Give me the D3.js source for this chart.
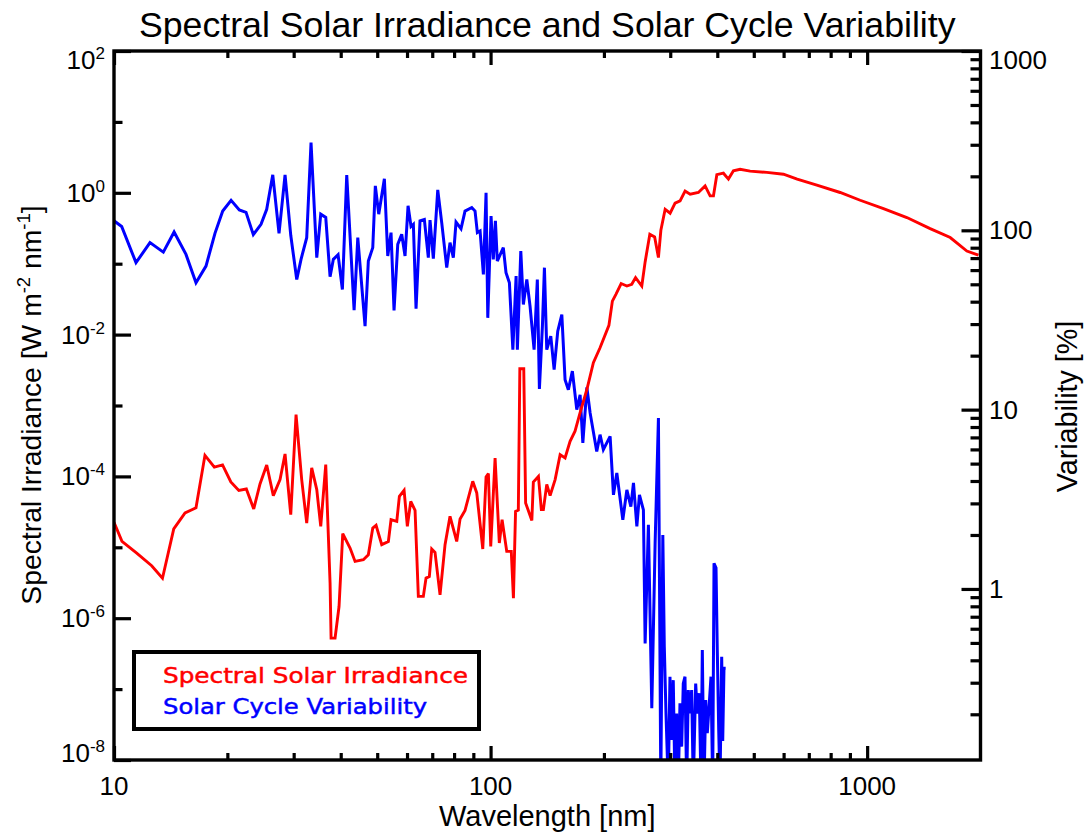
<!DOCTYPE html>
<html>
<head>
<meta charset="utf-8">
<script src="https://cdn.jsdelivr.net/npm/d3@7"></script>
<style>
  body { margin: 0; background: #fff; }
  svg text { font-family: "Liberation Sans", Arial, Helvetica, sans-serif; fill: #000; }
</style>
</head>
<body>
<svg id="chart" width="1089" height="832"></svg>
<script>
// Spectral solar irradiance [W m-2 nm-1] versus wavelength [nm]
const irrWavelength = [
  10.0, 10.50, 11.49, 12.59, 13.45, 14.41, 15.44, 16.51, 17.44, 18.47,
  19.42, 20.43, 21.45, 22.46, 23.50, 24.42, 25.44, 26.49, 27.60, 28.46,
  29.47, 30.44, 31.51, 32.49, 33.50, 34.55, 35.40, 36.50, 37.48, 37.71,
  38.64, 39.59, 40.50, 42.35, 43.67, 45.94, 47.36, 48.66, 49.65, 51.40,
  53.53, 54.41, 56.35, 57.26, 58.93, 60.12, 61.38, 63.02, 64.30, 66.29,
  67.40, 68.77, 69.78, 71.20, 73.42, 75.70, 78.04, 81.30, 82.98, 85.54,
  89.67, 91.90, 95.35, 97.28, 98.67, 100.1, 102.8, 105.5, 107.3, 110.4,
  113.5, 115.0, 116.5, 118.5, 119.6, 122.5, 123.9, 128.7, 129.9, 134.0,
  136.4, 138.1, 141.0, 143.9, 148.4, 153.0, 157.7, 162.6, 167.6, 172.9,
  180.2, 187.5, 195.3, 206.2, 210.6, 215.2, 222.2, 230.1, 237.1, 242.7,
  252.1, 257.3, 264.8, 272.7, 279.1, 283.3, 290.8, 299.8, 309.0, 318.6,
  328.5, 338.8, 356.4, 371.3, 382.8, 390.7, 398.9, 415.3, 428.2, 441.5,
  459.9, 488.9, 541.6, 599.6, 651.9, 735.3, 847.8, 958.1, 1105, 1275,
  1470, 1662, 1840, 1975
];
const irradiance = [
  2.25e-5, 1.21e-5, 8.30e-6, 5.50e-6, 3.66e-6, 1.82e-5, 3.05e-5, 3.60e-5, 1.98e-4, 1.35e-4,
  1.45e-4, 8.36e-5, 6.34e-5, 6.65e-5, 3.48e-5, 7.83e-5, 1.45e-4, 5.36e-5, 9.01e-5, 2.07e-4,
  2.88e-5, 7.46e-4, 9.01e-5, 2.20e-5, 1.32e-4, 6.51e-5, 1.97e-5, 1.47e-4, 3.13e-6, 5.24e-7,
  5.24e-7, 1.46e-6, 1.56e-5, 9.77e-6, 6.32e-6, 6.68e-6, 7.86e-6, 1.87e-5, 2.04e-5, 1.09e-5,
  1.21e-5, 2.45e-5, 2.32e-5, 5.24e-5, 6.37e-5, 1.97e-5, 4.45e-5, 3.32e-5, 2.03e-6, 2.03e-6,
  3.68e-6, 3.88e-6, 9.46e-6, 8.47e-6, 2.14e-6, 1.09e-5, 2.73e-5, 1.21e-5, 2.51e-5, 3.32e-5,
  8.53e-5, 5.85e-5, 9.46e-6, 9.84e-5, 1.10e-4, 1.03e-5, 1.82e-4, 1.15e-5, 2.45e-5, 8.75e-6,
  8.75e-6, 1.92e-6, 3.21e-5, 3.34e-5, 3.30e-3, 3.30e-3, 4.23e-5, 2.39e-5, 8.30e-5, 1.00e-4,
  3.40e-5, 3.40e-5, 7.73e-5, 5.36e-5, 9.01e-5, 2.03e-4, 1.82e-4, 3.13e-4, 4.34e-4, 7.96e-4,
  1.68e-3, 4.01e-3, 6.53e-3, 1.35e-2, 2.97e-2, 3.70e-2, 5.25e-2, 4.84e-2, 5.12e-2, 6.37e-2,
  4.84e-2, 0.106, 0.260, 0.238, 0.122, 0.296, 0.586, 0.515, 0.713, 0.769,
  1.06, 0.955, 1.01, 1.25, 0.904, 0.904, 1.80, 1.89, 1.56, 2.04,
  2.15, 2.02, 1.94, 1.83, 1.56, 1.28, 1.01, 0.785, 0.600, 0.448,
  0.313, 0.234, 0.151, 0.132
];

// Solar cycle variability [%] versus wavelength [nm]
const varWavelength = [
  10.0, 10.48, 11.44, 12.46, 13.52, 14.44, 15.53, 16.51, 17.55, 18.54,
  19.44, 20.46, 21.52, 22.42, 23.44, 24.57, 25.44, 26.40, 27.43, 28.46,
  29.47, 30.57, 31.38, 32.49, 33.36, 34.55, 35.40, 36.50, 37.48, 38.24,
  39.36, 40.41, 41.50, 43.41, 44.40, 46.42, 47.36, 48.66, 49.43, 50.47,
  52.24, 53.33, 54.41, 55.42, 56.69, 58.08, 59.27, 60.38, 61.49, 62.37,
  63.40, 64.96, 66.70, 68.35, 69.06, 70.47, 72.40, 74.19, 76.49, 78.04,
  79.63, 80.96, 83.46, 85.54, 89.14, 90.95, 92.24, 93.79, 95.70, 97.28,
  98.31, 100.3, 101.7, 103.0, 104.2, 108.1, 109.9, 112.2, 114.6, 116.9,
  117.8, 120.3, 122.2, 124.8, 127.3, 130.5, 133.1, 134.8, 137.3, 139.0,
  141.0, 144.5, 147.5, 150.8, 154.6, 157.7, 160.9, 164.9, 169.4, 172.9,
  175.8, 180.2, 183.8, 191.4, 195.3, 199.3, 207.7, 212.0, 216.4, 224.5,
  230.1, 235.8, 239.6, 244.6, 248.5, 254.6, 257.3, 262.5, 268.0, 273.5,
  279.1, 283.2, 286.7, 289.3, 292.3, 296.4, 299.5, 302.6, 305.6, 308.8,
  312.0, 315.1, 318.4, 321.7, 324.9, 328.3, 331.7, 335.0, 338.5, 342.0,
  345.4, 350.5, 354.0, 358.3, 362.1, 365.0, 368.8, 372.7, 376.3, 380.9,
  384.9, 388.9, 392.1, 396.9, 400.0, 403.5, 406.7, 410.9, 413.5, 416.7,
  421.0
];
const variability = [
  113, 105, 66.0, 85.4, 75.6, 97.8, 73.4, 51.0, 63.2, 96.2,
  128, 147, 130, 126, 94.6, 108, 131, 204, 96.2, 204,
  93.8, 53.2, 68.9, 91.0, 309, 70.4, 123, 118, 55.1, 68.9,
  73.1, 46.8, 203, 35.9, 91.0, 29.2, 67.4, 80.1, 177, 123,
  194, 71.9, 97.1, 35.7, 83.5, 95.0, 71.9, 137, 105, 108,
  36.5, 113, 115, 70.4, 114, 69.5, 168, 110, 61.9, 85.4,
  70.4, 111, 102, 128, 134, 128, 97.1, 99.1, 56.8, 162,
  32.5, 120, 68.9, 113, 67.4, 80.1, 58.0, 51.0, 21.6, 55.6,
  21.6, 76.6, 38.6, 53.2, 37.8, 21.6, 53.2, 13.05, 29.2, 61.9,
  21.6, 25.7, 16.7, 27.4, 33.9, 14.7, 12.9, 16.4, 10.0, 12.1,
  6.52, 13.3, 9.59, 5.85, 7.25, 5.98, 7.10, 3.35, 4.43, 2.43,
  3.57, 2.88, 3.90, 2.23, 3.35, 2.76, 0.497, 2.28, 0.216, 1.80,
  8.99, 0.08, 2.00, 0.476, 0.202, 0.08, 0.324, 0.144, 0.310, 0.08,
  0.202, 0.08, 0.230, 0.132, 0.297, 0.324, 0.08, 0.273, 0.202, 0.273,
  0.08, 0.297, 0.202, 0.262, 0.08, 0.456, 0.08, 0.240, 0.157, 0.230,
  0.324, 0.08, 1.39, 1.31, 0.456, 0.163, 0.08, 0.419, 0.142, 0.361,
  0.361
];

// Axis ticks
const xMajorTicks = [10, 100, 1000];
const xTickLabels = ["10", "100", "1000"];
const leftMajorExponents = [2, 0, -2, -4, -6, -8];
const leftMinorExponents = [1, -1, -3, -5, -7];
const rightMajorTicks = [1, 10, 100, 1000];
const rightTickLabels = ["1", "10", "100", "1000"];

const chartTitle = "Spectral Solar Irradiance and Solar Cycle Variability";
const xTitle = "Wavelength [nm]";
const rightTitle = "Variability [%]";
const legendLabels = ["Spectral Solar Irradiance", "Solar Cycle Variability"];
const seriesColors = ["#ff0000", "#0000ff"];

// Plot frame
const frameL = 114, frameR = 980.5, frameT = 51, frameB = 760;

const svg = d3.select("#chart");

const x = d3.scaleLog().domain([10, 2000]).range([frameL, frameR]);
const yL = d3.scaleLog().domain([1e-8, 1e2]).range([frameB, frameT]);
const yR = d3.scaleLog().domain([0.1112, 1000]).range([frameB, frameT]);

svg.append("defs").append("clipPath").attr("id", "plotClip")
  .append("rect").attr("x", frameL).attr("y", frameT)
  .attr("width", frameR - frameL).attr("height", frameB - frameT);

// Data lines
const irrData = irrWavelength.map((w, i) => ({ w, v: irradiance[i] }));
const varData = varWavelength.map((w, i) => ({ w, v: variability[i] }));

const plot = svg.append("g").attr("clip-path", "url(#plotClip)");

plot.append("path").datum(varData)
  .attr("fill", "none").attr("stroke", seriesColors[1]).attr("stroke-width", 3)
  .attr("stroke-linejoin", "miter").attr("stroke-miterlimit", 3)
  .attr("d", d3.line().x(d => x(d.w)).y(d => yR(d.v)));

plot.append("path").datum(irrData)
  .attr("fill", "none").attr("stroke", seriesColors[0]).attr("stroke-width", 2.9)
  .attr("stroke-linejoin", "miter").attr("stroke-miterlimit", 3)
  .attr("d", d3.line().x(d => x(d.w)).y(d => yL(d.v)));

// Tick marks (all pointing into the plot)
function styleAxis(g) {
  g.select(".domain").remove();
  g.selectAll(".tick line").attr("stroke", "#000").attr("stroke-width", 3.2);
  g.selectAll(".tick text").remove();
}
const xMinor = [];
[10, 100, 1000].forEach(d => { for (let k = 2; k <= 9; k++) if (d * k < 2000) xMinor.push(d * k); });

svg.append("g").attr("transform", `translate(0,${frameB})`)
  .call(d3.axisBottom(x).tickValues(xMajorTicks).tickSize(-14)).call(styleAxis);
svg.append("g").attr("transform", `translate(0,${frameB})`)
  .call(d3.axisBottom(x).tickValues(xMinor).tickSize(-7)).call(styleAxis);
svg.append("g").attr("transform", `translate(0,${frameT})`)
  .call(d3.axisTop(x).tickValues(xMajorTicks).tickSize(-14)).call(styleAxis);
svg.append("g").attr("transform", `translate(0,${frameT})`)
  .call(d3.axisTop(x).tickValues(xMinor).tickSize(-7)).call(styleAxis);

svg.append("g").attr("transform", `translate(${frameL},0)`)
  .call(d3.axisLeft(yL).tickValues(leftMajorExponents.map(e => Math.pow(10, e))).tickSize(-17)).call(styleAxis);
svg.append("g").attr("transform", `translate(${frameL},0)`)
  .call(d3.axisLeft(yL).tickValues(leftMinorExponents.map(e => Math.pow(10, e))).tickSize(-8.5)).call(styleAxis);

const rMinor = [];
[0.1, 1, 10, 100].forEach(d => { for (let k = 2; k <= 9; k++) rMinor.push(+(d * k).toPrecision(3)); });
svg.append("g").attr("transform", `translate(${frameR},0)`)
  .call(d3.axisRight(yR).tickValues(rightMajorTicks).tickSize(-19)).call(styleAxis);
svg.append("g").attr("transform", `translate(${frameR},0)`)
  .call(d3.axisRight(yR).tickValues(rMinor).tickSize(-10)).call(styleAxis);

// Frame
svg.append("rect").attr("x", frameL).attr("y", frameT)
  .attr("width", frameR - frameL).attr("height", frameB - frameT)
  .attr("fill", "none").attr("stroke", "#000").attr("stroke-width", 3.4);

// Tick labels: end labels are kept inside the frame's vertical extent
const labelY = v => Math.min(Math.max(v, frameT + 8.5), frameB - 7.5);

svg.append("g").selectAll("text").data(xMajorTicks).join("text")
  .attr("x", d => x(d)).attr("y", 795)
  .attr("text-anchor", "middle").attr("font-size", 26)
  .text((d, i) => xTickLabels[i]);

const leftLabels = svg.append("g").selectAll("text").data(leftMajorExponents).join("text")
  .attr("x", 105).attr("y", e => labelY(yL(Math.pow(10, e))) + 9)
  .attr("text-anchor", "end").attr("font-size", 26);
leftLabels.append("tspan").text("10");
leftLabels.append("tspan").attr("dy", -10).attr("font-size", 17).text(e => String(e));

svg.append("g").selectAll("text").data(rightMajorTicks).join("text")
  .attr("x", 989).attr("y", d => labelY(yR(d)) + 9)
  .attr("text-anchor", "start").attr("font-size", 26)
  .text((d, i) => rightTickLabels[i]);

// Titles
svg.append("text").attr("x", (frameL + frameR) / 2).attr("y", 37)
  .attr("text-anchor", "middle").attr("font-size", 35.7).text(chartTitle);

svg.append("text").attr("x", (frameL + frameR) / 2).attr("y", 826)
  .attr("text-anchor", "middle").attr("font-size", 29).text(xTitle);

const yTitle = svg.append("text")
  .attr("transform", "translate(41,405) rotate(-90)")
  .attr("text-anchor", "middle").attr("font-size", 28.3);
yTitle.append("tspan").text("Spectral Irradiance [W m");
yTitle.append("tspan").attr("dy", -11).attr("font-size", 18.5).text("-2");
yTitle.append("tspan").attr("dy", 11).text(" nm");
yTitle.append("tspan").attr("dy", -11).attr("font-size", 18.5).text("-1");
yTitle.append("tspan").attr("dy", 11).text("]");

svg.append("text")
  .attr("transform", "translate(1077,406.5) rotate(-90)")
  .attr("text-anchor", "middle").attr("font-size", 28.7).text(rightTitle);

// Legend
const legend = svg.append("g");
legend.append("rect").attr("x", 134).attr("y", 652).attr("width", 345).attr("height", 77)
  .attr("fill", "#fff").attr("stroke", "#000").attr("stroke-width", 4);
const legendWidths = [305, 264];
legend.selectAll("text").data(legendLabels).join("text")
  .attr("x", 163).attr("y", (d, i) => 683 + i * 31)
  .attr("font-size", 22).style("font-family", "'DejaVu Sans', sans-serif")
  .style("fill", (d, i) => seriesColors[i])
  .style("stroke", (d, i) => seriesColors[i]).attr("stroke-width", 0.5)
  .attr("textLength", (d, i) => legendWidths[i]).attr("lengthAdjust", "spacingAndGlyphs")
  .text(d => d);
</script>
</body>
</html>
